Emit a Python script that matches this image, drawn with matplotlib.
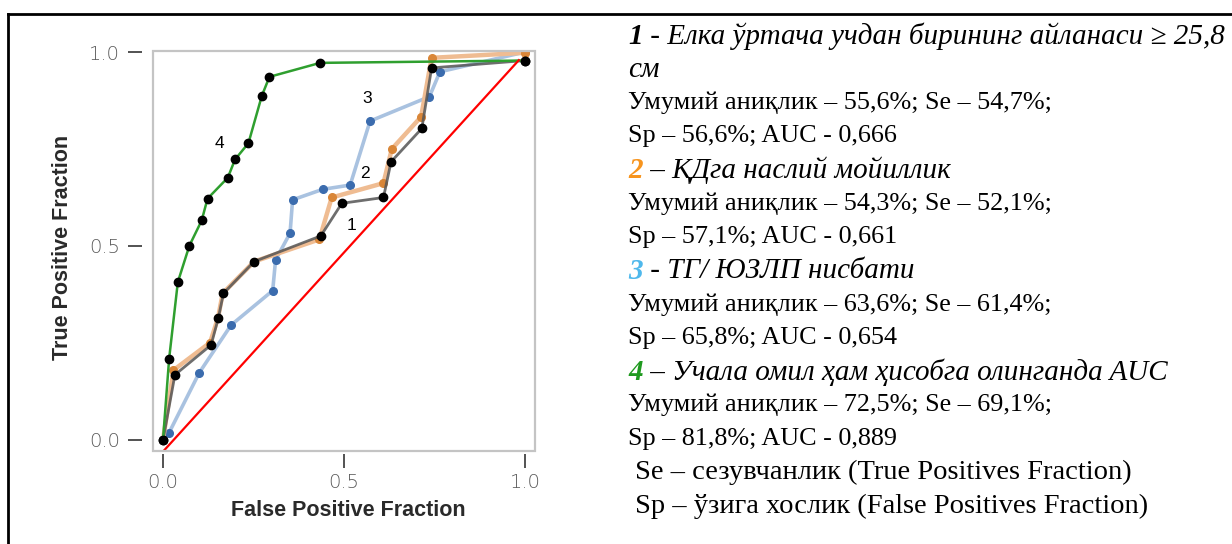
import matplotlib
matplotlib.use('Agg')
import matplotlib.pyplot as plt
from matplotlib.patches import Rectangle
from matplotlib.lines import Line2D

# ROC points (false positive fraction, true positive fraction)
# 1 - waist circumference
fpf_1 = [0.0, 0.033, 0.133, 0.153, 0.167, 0.252, 0.436, 0.494, 0.609, 0.630, 0.715, 0.742, 1.0]
tpf_1 = [0.0, 0.168, 0.245, 0.315, 0.378, 0.460, 0.526, 0.610, 0.625, 0.717, 0.803, 0.959, 0.978]
# 2 - heredity
fpf_2 = [0.0, 0.029, 0.130, 0.152, 0.165, 0.252, 0.432, 0.466, 0.609, 0.632, 0.713, 0.742, 1.0]
tpf_2 = [0.0, 0.180, 0.251, 0.315, 0.378, 0.460, 0.517, 0.625, 0.662, 0.750, 0.833, 0.985, 0.998]
# 3 - TG / HDL ratio
fpf_3 = [0.0, 0.017, 0.100, 0.188, 0.303, 0.311, 0.351, 0.358, 0.441, 0.517, 0.572, 0.736, 0.765, 1.0]
tpf_3 = [0.0, 0.019, 0.173, 0.296, 0.385, 0.464, 0.533, 0.619, 0.646, 0.657, 0.822, 0.885, 0.949, 1.0]
# 4 - all three combined
fpf_4 = [0.0, 0.017, 0.041, 0.073, 0.107, 0.123, 0.179, 0.199, 0.236, 0.273, 0.294, 0.434, 1.0]
tpf_4 = [0.0, 0.210, 0.407, 0.501, 0.566, 0.622, 0.676, 0.723, 0.765, 0.887, 0.936, 0.972, 0.978]
# reference line as drawn
ref_x = [0.0, 0.983]
ref_y = [-0.03, 0.979]

curve_tags = ['1', '2', '3', '4']
tag_x = [0.522, 0.558, 0.564, 0.155]
tag_y = [0.554, 0.688, 0.879, 0.765]

tick_vals = [0.0, 0.5, 1.0]
tick_text = ['0.0', '0.5', '1.0']

# right hand notes: each line is a list of (text, kind)
notes = [
    [('1', 'num1'), (' - Елка ўртача учдан бирининг айланаси ≥ 25,8', 'it')],
    [('см', 'it')],
    [('Умумий аниқлик – 55,6%; Se – 54,7%;', 'rm')],
    [('Sp – 56,6%; AUC - 0,666', 'rm')],
    [('2', 'num2'), (' – ҚДга наслий мойиллик', 'it')],
    [('Умумий аниқлик – 54,3%; Se – 52,1%;', 'rm')],
    [('Sp – 57,1%; AUC - 0,661', 'rm')],
    [('3', 'num3'), (' - ТГ/ ЮЗЛП нисбати', 'it')],
    [('Умумий аниқлик – 63,6%; Se – 61,4%;', 'rm')],
    [('Sp – 65,8%; AUC - 0,654', 'rm')],
    [('4', 'num4'), (' – Учала омил ҳам ҳисобга олинганда AUC', 'it')],
    [('Умумий аниқлик – 72,5%; Se – 69,1%;', 'rm')],
    [('Sp – 81,8%; AUC - 0,889', 'rm')],
    [(' Se – сезувчанлик (True Positives Fraction)', 'note')],
    [(' Sp – ўзига хослик (False Positives Fraction)', 'note')],
]

W, H = 1232, 544
fig = plt.figure(figsize=(W / 100, H / 100), dpi=100)

ax = fig.add_axes([153 / W, 1 - 451 / H, (535 - 153) / W, (451 - 51) / H])
ax.set_xlim(-0.0276, 1.0276)
ax.set_ylim(-0.0284, 1.0026)

ax.plot(fpf_3, tpf_3, color='#a9c2e0', lw=2.6, zorder=2)
ax.plot(fpf_3, tpf_3, 'o', color='#3b6cae', ms=5.5, zorder=3)
ax.plot(fpf_2, tpf_2, color='#efbc92', lw=3.2, zorder=4)
ax.plot(fpf_2, tpf_2, 'o', color='#d98638', ms=5.5, zorder=5)
ax.plot(fpf_1, tpf_1, color='#555555', lw=2.0, alpha=0.85, zorder=6)
ax.plot(fpf_1, tpf_1, 'o', color='black', ms=6, zorder=7)
ax.plot(fpf_4, tpf_4, color='#2f9f2f', lw=1.8, zorder=8)
ax.plot(fpf_4, tpf_4, 'o', color='black', ms=6, zorder=9)
ax.plot(ref_x, ref_y, color='#ff0000', lw=1.6, zorder=10)

for t, x, y in zip(curve_tags, tag_x, tag_y):
    ax.text(x, y, t, fontsize=12.5, family='Liberation Sans', ha='center', va='center', zorder=11)

# grey frame, ticks sit a little outside it
ax.add_patch(Rectangle((0, 0), 1, 1, transform=ax.transAxes, fill=False,
                       ec='#c4c4c4', lw=1.6, clip_on=False, zorder=12))
for s in ax.spines.values():
    s.set_color('none')
ax.spines['left'].set_position(('outward', 8))
ax.spines['bottom'].set_position(('outward', 2))
ax.set_xticks(tick_vals)
ax.set_xticklabels(tick_text)
ax.set_yticks(tick_vals)
ax.set_yticklabels(tick_text)
ax.tick_params(axis='both', length=10, width=1.3, color='#444444', labelsize=14,
               labelcolor='#5a5a5a')
ax.tick_params(axis='y', pad=6)
ax.tick_params(axis='x', pad=4)
for lab in ax.get_xticklabels() + ax.get_yticklabels():
    lab.set_family('DejaVu Sans')
    lab.set_fontweight('light')

fig.text(348 / W, 1 - 511 / H, 'False Positive Fraction', fontsize=15.5, fontweight='bold',
         family='Liberation Sans', color='#2a2a2a', ha='center', va='center')
fig.text(62 / W, 1 - 247 / H, 'True Positive Fraction', fontsize=15.5, fontweight='bold',
         family='Liberation Sans', color='#2a2a2a', ha='center', va='center', rotation=90)

# outer table border (left and top only visible)
fig.add_artist(Line2D([8 / W, 8 / W], [0, 1 - 14 / H], color='black', lw=2))
fig.add_artist(Line2D([8 / W, 1], [1 - 14 / H, 1 - 14 / H], color='black', lw=2))

styles = {
    'rm': dict(style='normal', weight='normal', color='black', size=18.8),
    'note': dict(style='normal', weight='normal', color='black', size=20.5),
    'it': dict(style='italic', weight='normal', color='black', size=21),
    'num1': dict(style='italic', weight='bold', color='black', size=21),
    'num2': dict(style='italic', weight='bold', color='#f7941d', size=21),
    'num3': dict(style='italic', weight='bold', color='#4fb8ec', size=21),
    'num4': dict(style='italic', weight='bold', color='#1f9a1f', size=21),
}
serif = ['Liberation Serif', 'DejaVu Serif']
renderer = fig.canvas.get_renderer()
x0 = 628
for i, line in enumerate(notes):
    yc = 33 + 33.6 * i
    x = x0
    for txt, kind in line:
        st = styles[kind]
        t = fig.text(x / W, 1 - yc / H, txt, fontsize=st['size'], family=serif,
                     fontstyle=st['style'], fontweight=st['weight'], color=st['color'],
                     ha='left', va='center_baseline')
        x += t.get_window_extent(renderer).width

fig.savefig('out.png', dpi=100)
